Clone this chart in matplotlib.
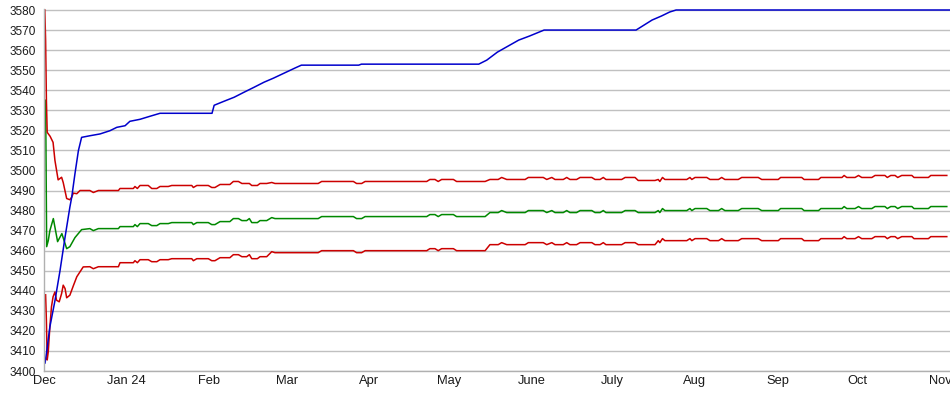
import matplotlib
matplotlib.use("Agg")
import matplotlib.pyplot as plt
import pandas as pd

plt.rcParams['font.family'] = ['Liberation Sans', 'DejaVu Sans']

# x values are day offsets from 1 Dec 2023
start_date = "2023-12-01"
month_starts = ["2023-12-01", "2024-01-01", "2024-02-01", "2024-03-01", "2024-04-01", "2024-05-01",
                "2024-06-01", "2024-07-01", "2024-08-01", "2024-09-01", "2024-10-01", "2024-11-01"]
month_labels = ["Dec", "Jan 24", "Feb", "Mar", "Apr", "May", "June", "July", "Aug", "Sep", "Oct", "Nov"]
y_ticks = list(range(3400, 3581, 10))

blue_days = [0.4, 1.0, 2.2, 4.1, 6.0, 7.9, 9.7, 10.4, 11.6, 12.9, 14.1, 17.2, 21.0, 24.7, 27.3, 30.4, 32.2,
             36.0, 39.7, 43.5, 63.0, 63.8, 67.5, 71.3, 75.0, 78.8, 82.5, 86.0, 90.0, 94.0, 96.5, 118.0, 119.0,
             163.0, 166.0, 170.0, 174.0, 178.0, 182.0, 187.5, 222.0, 225.0, 228.0, 231.5, 234.6, 237.0, 339.7]
blue_vals = [3404, 3409.6, 3422, 3435, 3450, 3466.8, 3481.7, 3486.7, 3498.3, 3509.9, 3516.5, 3517.3, 3518.2,
             3519.8, 3521.5, 3522.3, 3524.5, 3525.5, 3527, 3528.5, 3528.5, 3532.5, 3534.5, 3536.5, 3539,
             3541.5, 3544, 3546, 3548.5, 3551, 3552.5, 3552.5, 3553, 3553, 3555, 3559, 3562, 3565, 3567,
             3570, 3570, 3572.5, 3575, 3577, 3579, 3580, 3580]

green_days = [0.6, 1.0, 1.6, 2.2, 3.5, 5.1, 6.7, 8.5, 9.7, 11.6, 14.1, 17.2, 18.5, 20.4, 27.9, 28.5, 33.5,
              34.1, 35.0, 36.0, 39.1, 40.4, 42.3, 43.5, 46.6, 47.9, 55.4, 56.0, 57.3, 61.6, 62.9, 64.1,
              66.0, 69.7, 71.0, 72.9, 74.2, 76.0, 77.0, 77.9, 80.0, 81.0, 83.5, 85.4, 86.6, 102.8, 104.1,
              116.0, 117.2, 119.1, 120.4, 143.5, 144.7, 146.6, 147.8, 149.1, 153.5, 154.7, 165.4, 167.2,
              170.3, 171.6, 173.5, 180.4, 181.6, 187.2, 188.5, 190.4, 191.6, 194.7, 196.0, 197.2, 199.7,
              201.0, 205.4, 206.6, 208.5, 209.7, 210.7, 216.6, 217.9, 221.6, 222.8, 229.1, 230.3, 230.9,
              231.9, 232.8, 241.0, 242.2, 242.9, 244.1, 248.5, 249.7, 252.9, 254.1, 255.3, 260.3, 261.6,
              267.8, 269.1, 275.3, 276.2, 284.1, 285.0, 290.4, 291.3, 299.2, 300.0, 301.0, 304.1, 305.4,
              306.6, 310.4, 311.6, 315.3, 316.2, 317.5, 319.1, 320.1, 321.6, 325.4, 326.2, 331.6, 332.5, 338.5]
green_vals = [3535, 3462, 3465, 3470, 3476, 3464.5, 3468.5, 3461, 3462, 3466.5, 3470.5, 3471, 3470, 3471,
              3471, 3472, 3472, 3473, 3472, 3473.5, 3473.5, 3472.5, 3472.5, 3473.5, 3473.5, 3474, 3474,
              3473, 3474, 3474, 3473, 3473, 3474.5, 3474.5, 3476, 3476, 3475, 3475, 3476, 3474, 3474,
              3475, 3475, 3476.5, 3476, 3476, 3477, 3477, 3476, 3476, 3477, 3477, 3478, 3478, 3477, 3478,
              3478, 3477, 3477, 3479, 3479, 3480, 3479, 3479, 3480, 3480, 3479, 3480, 3479, 3479, 3480,
              3479, 3479, 3480, 3480, 3479, 3479, 3480, 3479, 3479, 3480, 3480, 3479, 3479, 3480, 3479,
              3481, 3480, 3480, 3481, 3480, 3481, 3481, 3480, 3480, 3481, 3480, 3480, 3481, 3481, 3480,
              3480, 3481, 3481, 3480, 3480, 3481, 3481, 3482, 3481, 3481, 3482, 3481, 3481, 3482, 3482,
              3481, 3482, 3482, 3481, 3482, 3482, 3481, 3481, 3482, 3482]

red_hi_days = [0.3, 0.6, 0.9, 1.2, 2.3, 3.4, 4.1, 5.3, 6.6, 7.2, 8.5, 9.7, 10.4, 11.0, 12.3, 13.5, 17.2,
               18.5] + green_days[13:]
red_hi_vals = [3580, 3565, 3535, 3519, 3517, 3514, 3505, 3495.3, 3496.6, 3494, 3486, 3485.4, 3486.7, 3488.7,
               3488.4, 3490, 3490, 3489,
               3490, 3490, 3491, 3491, 3492, 3491, 3492.5, 3492.5, 3491, 3491, 3492, 3492, 3492.5, 3492.5,
               3491.5, 3492.5, 3492.5, 3491.5, 3491.5, 3493, 3493, 3494.5, 3494.5, 3493.5, 3493.5, 3493.5,
               3492.5, 3492.5, 3493.5, 3493.5, 3494, 3493.5, 3493.5, 3494.5, 3494.5, 3493.5, 3493.5, 3494.5,
               3494.5, 3495.5, 3495.5, 3494.5, 3495.5, 3495.5, 3494.5, 3494.5, 3495.5, 3495.5, 3496.5,
               3495.5, 3495.5, 3496.5, 3496.5, 3495.5, 3496.5, 3495.5, 3495.5, 3496.5, 3495.5, 3495.5,
               3496.5, 3496.5, 3495.5, 3495.5, 3496.5, 3495.5, 3495.5, 3496.5, 3496.5, 3495, 3495, 3495.5,
               3494.5, 3496.5, 3495.5, 3495.5, 3496.5, 3495.5, 3496.5, 3496.5, 3495.5, 3495.5, 3496.5,
               3495.5, 3495.5, 3496.5, 3496.5, 3495.5, 3495.5, 3496.5, 3496.5, 3495.5, 3495.5, 3496.5,
               3496.5, 3497.5, 3496.5, 3496.5, 3497.5, 3496.5, 3496.5, 3497.5, 3497.5, 3496.5, 3497.5,
               3497.5, 3496.5, 3497.5, 3497.5, 3496.5, 3496.5, 3497.5, 3497.5]

red_lo_days = [0.6, 0.9, 1.2, 1.6, 2.2, 2.8, 3.4, 4.1, 4.7, 5.7, 6.6, 7.2, 7.9, 8.5, 9.7, 11.0, 12.3, 13.5,
               14.7, 17.2, 18.5] + green_days[13:]
red_lo_vals = [3438, 3425, 3405.5, 3409.6, 3422, 3432, 3437, 3439.4, 3435.3, 3434.5, 3438.6, 3442.8, 3441.1,
               3436.5, 3437.8, 3442.5, 3447, 3449.4, 3451.9, 3452, 3451,
               3452, 3452, 3454, 3454, 3455, 3454, 3455.5, 3455.5, 3454.5, 3454.5, 3455.5, 3455.5, 3456,
               3456, 3455, 3456, 3456, 3455, 3455, 3456.5, 3456.5, 3458, 3458, 3457, 3457, 3458, 3456,
               3456, 3457, 3457, 3459.5, 3459, 3459, 3460, 3460, 3459, 3459, 3460, 3460, 3461, 3461, 3460,
               3461, 3461, 3460, 3460, 3463, 3463, 3464, 3463, 3463, 3464, 3464, 3463, 3464, 3463, 3463,
               3464, 3463, 3463, 3464, 3464, 3463, 3463, 3464, 3463, 3463, 3464, 3464, 3463, 3463, 3465,
               3464, 3466, 3465, 3465, 3466, 3465, 3466, 3466, 3465, 3465, 3466, 3465, 3465, 3466, 3466,
               3465, 3465, 3466, 3466, 3465, 3465, 3466, 3466, 3467, 3466, 3466, 3467, 3466, 3466, 3467,
               3467, 3466, 3467, 3467, 3466, 3467, 3467, 3466, 3466, 3467, 3467]

x_end_day = 339.7

fig = plt.figure(figsize=(9.5, 3.95), dpi=100)
ax = fig.add_axes([44 / 950, 1 - 371 / 395, 1 - 44 / 950, (371 - 9) / 395])

ax.plot(green_days, green_vals, color="#008800", lw=1.1)
ax.plot(red_lo_days, red_lo_vals, color="#cc0000", lw=1.1)
ax.plot(red_hi_days, red_hi_vals, color="#cc0000", lw=1.1)
ax.plot(blue_days, blue_vals, color="#0000cc", lw=1.1)

base = pd.Timestamp(start_date)
tick_days = [(pd.Timestamp(m) - base).days for m in month_starts]
ax.set_xticks(tick_days)
ax.set_xticklabels(month_labels)
ax.set_yticks(y_ticks)
ax.set_xlim(0, x_end_day)
ax.set_ylim(3400, 3580.5)

ax.grid(axis="y", color="#c0c0c0", lw=1.0)
ax.set_axisbelow(True)
for s in ["top", "right"]:
    ax.spines[s].set_visible(False)
for s in ["left", "bottom"]:
    ax.spines[s].set_color("#b0b0b0")
    ax.spines[s].set_linewidth(1.0)
ax.tick_params(axis="both", length=0, colors="#1a1a1a")
ax.tick_params(axis="y", pad=6, labelsize=8.5)
ax.tick_params(axis="x", pad=3, labelsize=9.3)

fig.savefig("out.png", dpi=100)
